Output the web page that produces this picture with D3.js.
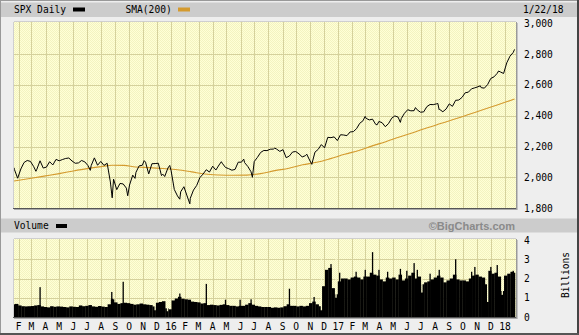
<!DOCTYPE html>
<html><head><meta charset="utf-8">
<script src="https://cdn.jsdelivr.net/npm/d3@7"></script>
<style>
html,body{margin:0;padding:0;background:#eeeeee;}
svg{display:block;}
text{font-family:"DejaVu Sans Mono",monospace;font-size:9.6px;fill:#000;}
</style></head><body>
<svg id="c" width="579" height="335"></svg>
<script>
// ---------- DATA ----------
const seriesName = "SPX Daily";
const smaName = "SMA(200)";
const asOf = "1/22/18";
const domainStart = "2015-01-22", domainEnd = "2018-01-23";
// weekly (Friday) closes, 2015-01-23 .. 2018-01-19
const firstFriday = "2015-01-23", lastFriday = "2018-01-19";
const weeklyClose = [
  2051,1995, 2055,2097,2110,2104, 2071,2053,2108,2061, 2067,2102,2081,2117,
  2108,2116,2123,2126,2107, 2092,2094,2110,2101, 2077,2077,2127,2079,2104,
  2078,2092,1971,1989, 1921,1961,1958,1931, 1951,2015,2033,2075,2079,
  2099,2023,2089,2090, 2092,2012,2006,2061,
  2044,1922,1880,1907,1940, 1880,1865,1918,1948, 1999,2022,2050,2035,
  2073,2048,2081,2092,2065, 2057,2047,2052,2099, 2099,2096,2071,2037,
  2103,2130,2162,2175,2174, 2183,2184,2184,2169, 2180,2128,2139,2165,2168,
  2153,2133,2141,2126, 2085,2164,2182,2213, 2192,2260,2258,2263,2239,
  2277,2275,2271,2295, 2297,2316,2351,2367, 2383,2373,2378,2344,2363,
  2355,2329,2349,2384, 2399,2391,2382,2416, 2439,2432,2433,2438,2423,
  2425,2459,2473,2472, 2477,2441,2426,2443, 2477,2461,2500,2502,2519,
  2549,2553,2575,2581, 2588,2582,2579,2602, 2642,2652,2675,2684,2674,
  2743,2786,2810
];
// extra daily closes (extremes, mid-week swings, first/last day)
const extraDates = ["2015-01-22","2015-03-11","2015-07-08","2015-08-24","2015-08-25","2015-09-28",
  "2015-10-14","2015-11-03","2015-12-14","2015-12-29","2016-01-20","2016-02-11","2016-04-20",
  "2016-06-08","2016-06-27","2016-08-15","2016-10-24","2017-03-01","2017-03-27","2017-05-17",
  "2017-06-19","2017-08-07","2017-08-10","2017-11-08","2017-12-18","2018-01-22"];
const extraClose = [2063,2040,2046,1893,1868,1881,1994,2109,2021,2078,1859,1829,2102,
  2119,2001,2190,2151,2396,2341,2357,2453,2480,2438,2594,2690,2830];
// 200-day moving average
const smaDates = ["2015-01-22","2015-03-01","2015-04-01","2015-05-01","2015-06-01","2015-07-01","2015-08-01",
  "2015-08-25","2015-09-20","2015-10-15","2015-11-15","2015-12-15","2016-01-15","2016-02-15","2016-03-15",
  "2016-04-15","2016-05-15","2016-06-15","2016-07-15","2016-08-15","2016-09-15","2016-10-15","2016-11-15",
  "2016-12-15","2017-01-15","2017-02-15","2017-03-15","2017-04-15","2017-05-15","2017-06-15","2017-07-15",
  "2017-08-15","2017-09-15","2017-10-15","2017-11-15","2017-12-15","2018-01-22"];
const smaValues = [1977,1995,2010,2025,2042,2057,2070,2079,2078,2068,2064,2058,2050,2036,2022,
  2016,2014,2015,2025,2044,2060,2082,2098,2122,2150,2175,2203,2232,2262,2292,2322,
  2352,2380,2410,2440,2470,2508];
// weekly volume (billions), same Fridays
const weeklyVolume = [
  0.66,0.68, 0.60,0.56,0.55,0.56, 0.57,0.60,0.62,0.55, 0.52,0.50,0.56,0.53,
  0.55,0.54,0.52,0.50,0.55, 0.53,0.52,0.60,0.56, 0.58,0.62,0.55,0.53,0.57,
  0.54,0.52,0.66,0.92, 0.76,0.68,0.72,0.74, 0.72,0.68,0.64,0.66,0.70,
  0.66,0.64,0.62,0.55, 0.74,0.78,0.82,0.45,
  0.40,0.86,0.96,1.05,0.95, 0.92,0.90,0.80,0.78, 0.76,0.70,0.72,0.62,
  0.64,0.62,0.60,0.63,0.66, 0.62,0.58,0.58,0.55, 0.58,0.58,0.64,0.72,
  0.64,0.58,0.55,0.52,0.52, 0.52,0.48,0.50,0.48, 0.50,0.56,0.66,0.58,0.58,
  0.55,0.58,0.55,0.58, 0.72,0.80,0.66,0.56, 1.60,2.45,2.55,1.50,1.18,
  1.85,2.00,2.00,1.95, 2.05,2.10,2.05,1.95, 2.10,2.10,2.30,2.20,2.15,
  1.95,1.85,2.05,2.00, 2.05,1.95,2.20,1.90, 2.00,2.15,2.30,2.00,2.10,
  1.70,1.80,1.85,1.95, 2.05,2.15,2.05,1.80, 1.90,2.00,2.20,1.95,1.90,
  1.90,1.85,2.00,2.15, 2.20,2.10,2.05,1.70, 2.40,2.25,2.30,2.10,1.35,
  2.15,2.25,2.35
];
// single-day volume spikes (billions)
const spikeDates = ["2015-03-20","2015-08-24","2015-08-25","2015-09-18","2016-01-20","2016-03-18",
  "2016-04-29","2016-05-31","2016-06-24","2016-09-16","2016-11-09","2016-12-16","2017-01-04",
  "2017-02-09","2017-03-01","2017-03-17","2017-03-31","2017-04-19","2017-05-17","2017-05-31",
  "2017-06-16","2017-06-23","2017-07-21","2017-08-10","2017-09-15","2017-10-20","2017-10-27",
  "2017-12-01","2017-12-15","2018-01-19","2018-01-22"];
const spikeVolume = [1.55,1.30,0.95,1.83,1.22,1.72,0.90,0.90,0.92,1.47,1.04,2.75,2.30,
  2.35,2.45,3.37,2.45,2.35,2.50,2.40,2.80,2.45,2.25,2.45,3.00,2.35,2.60,
  2.60,2.70,2.40,2.30];
// single-day volume dips (billions)
const dipDates = ["2015-11-27","2015-12-24","2016-11-25","2016-12-27","2017-07-03","2017-11-24","2017-12-26"];
const dipVolume = [0.35,0.30,0.35,1.00,1.27,0.78,1.15];
const priceTicks = [1800,2000,2200,2400,2600,2800,3000];
const volumeTicks = [0,1,2,3,4];
const volumeUnit = "Billions";
const volumeName = "Volume";
const credit = "\u00A9BigCharts.com";

// ---------- DRAW ----------
const P = d3.timeParse("%Y-%m-%d");
const svg = d3.select("#c");
const W = 579, H = 335;
const L = 14, R = 516;
const mainTop = 22, mainBot = 208;
const volTop = 239, volBot = 317;

const x = d3.scaleTime().domain([P(domainStart), P(domainEnd)]).range([L, R - 1]);
const y = d3.scaleLinear().domain([1800, 3000]).range([208.3, 23.2]);
const yv = d3.scaleLinear().domain([0, 4]).range([volBot, 240]);

const fridays = d3.timeFriday.range(P(firstFriday), d3.timeDay.offset(P(lastFriday), 1));

const defs = svg.append("defs");
const pat = defs.append("pattern").attr("id","bg").attr("width",2).attr("height",2).attr("patternUnits","userSpaceOnUse");
pat.append("rect").attr("width",2).attr("height",2).attr("fill","#ffffd6");
pat.append("rect").attr("width",1).attr("height",1).attr("fill","#f3f3c0");
pat.append("rect").attr("x",1).attr("y",1).attr("width",1).attr("height",1).attr("fill","#f3f3c0");
defs.append("clipPath").attr("id","cm").append("rect").attr("x",L).attr("y",mainTop).attr("width",R-L).attr("height",mainBot-mainTop);
defs.append("clipPath").attr("id","cv").append("rect").attr("x",L).attr("y",volTop).attr("width",R-L).attr("height",volBot-volTop);

// page background & frame
svg.append("rect").attr("width",W).attr("height",H).attr("fill","#eeeeee");
svg.append("rect").attr("x",0.5).attr("y",0.5).attr("width",577).attr("height",333).attr("fill","none").attr("stroke","#999");
svg.append("line").attr("x1",578).attr("x2",578).attr("y1",0).attr("y2",335).attr("stroke","#444").attr("stroke-width",2);
svg.append("line").attr("x1",0).attr("x2",579).attr("y1",334).attr("y2",334).attr("stroke","#555").attr("stroke-width",2);

// header bars
svg.append("rect").attr("x",1).attr("y",2.5).attr("width",576).attr("height",14.5).attr("fill","#cccccc");
svg.append("rect").attr("x",1).attr("y",218.5).attr("width",576).attr("height",14).attr("fill","#cccccc");

// panels
function panel(top, bot){
  svg.append("rect").attr("x",L).attr("y",top).attr("width",R-L).attr("height",bot-top).attr("fill","url(#bg)");
}
panel(mainTop, mainBot);
panel(volTop, volBot);

const months = d3.timeMonth.range(d3.timeMonth.ceil(P(domainStart)), P(domainEnd));
const gridColor = "#d5d19c";
[[mainTop,mainBot],[volTop,volBot]].forEach(([t,b])=>{
  svg.append("g").selectAll("line").data(months).join("line")
    .attr("x1",d=>Math.round(x(d))+0.5).attr("x2",d=>Math.round(x(d))+0.5)
    .attr("y1",t).attr("y2",b).attr("stroke",gridColor).attr("stroke-width",1);
});
svg.append("g").selectAll("line").data(priceTicks.slice(1,-1)).join("line")
  .attr("x1",L).attr("x2",R).attr("y1",d=>Math.round(y(d))+0.5).attr("y2",d=>Math.round(y(d))+0.5)
  .attr("stroke",gridColor);
svg.append("g").selectAll("line").data(volumeTicks.slice(1,-1)).join("line")
  .attr("x1",L).attr("x2",R).attr("y1",d=>Math.round(yv(d))+0.5).attr("y2",d=>Math.round(yv(d))+0.5)
  .attr("stroke",gridColor);

// SMA line
const smaData = smaDates.map((d,i)=>({date:P(d), v:smaValues[i]}));
svg.append("path").datum(smaData).attr("clip-path","url(#cm)")
  .attr("fill","none").attr("stroke","#d49a2e").attr("stroke-width",1.1)
  .attr("d", d3.line().x(d=>x(d.date)).y(d=>y(d.v)).curve(d3.curveMonotoneX));

// price line
const priceData = fridays.map((d,i)=>({date:d, v:weeklyClose[i]}))
  .concat(extraDates.map((d,i)=>({date:P(d), v:extraClose[i]})))
  .sort((a,b)=>a.date-b.date);
svg.append("path").datum(priceData).attr("clip-path","url(#cm)")
  .attr("fill","none").attr("stroke","#000").attr("stroke-width",1)
  .attr("d", d3.line().x(d=>x(d.date)).y(d=>y(d.v)));

// volume bars
const gv = svg.append("g").attr("clip-path","url(#cv)");
gv.selectAll("rect.w").data(fridays.map((d,i)=>({date:d, v:weeklyVolume[i]}))).join("rect")
  .attr("class","w")
  .attr("x",d=>x(d3.timeDay.offset(d.date,-6)))
  .attr("width",d=>x(d3.timeDay.offset(d.date,1)) - x(d3.timeDay.offset(d.date,-6)) + 0.3)
  .attr("y",d=>yv(d.v)).attr("height",d=>volBot - yv(d.v)).attr("fill","#000");
gv.selectAll("rect.d").data(dipDates.map((d,i)=>({date:P(d), v:dipVolume[i]}))).join("rect")
  .attr("class","d")
  .attr("x",d=>x(d.date)-0.6).attr("width",1.3)
  .attr("y",volTop).attr("height",d=>yv(d.v) - volTop).attr("fill","url(#bg)");
gv.selectAll("rect.s").data(spikeDates.map((d,i)=>({date:P(d), v:spikeVolume[i]}))).join("rect")
  .attr("class","s")
  .attr("x",d=>x(d.date)-0.6).attr("width",1.3)
  .attr("y",d=>yv(d.v)).attr("height",d=>volBot - yv(d.v)).attr("fill","#000");

// panel borders / shadows
function borders(top, bot){
  svg.append("line").attr("x1",L-0.5).attr("x2",L-0.5).attr("y1",top).attr("y2",bot).attr("stroke","#cfcfcf");
  svg.append("line").attr("x1",L).attr("x2",R).attr("y1",top-0.5).attr("y2",top-0.5).attr("stroke","#cfcfcf");
  svg.append("line").attr("x1",L-1).attr("x2",R+1).attr("y1",bot+0.5).attr("y2",bot+0.5).attr("stroke","#555");
  svg.append("line").attr("x1",L).attr("x2",R+2).attr("y1",bot+1.5).attr("y2",bot+1.5).attr("stroke","#aaa");
  svg.append("line").attr("x1",R+0.5).attr("x2",R+0.5).attr("y1",top).attr("y2",bot+1).attr("stroke","#999");
  svg.append("line").attr("x1",R+1.5).attr("x2",R+1.5).attr("y1",top+1).attr("y2",bot+2).attr("stroke","#c4c4c4");
}
borders(mainTop, mainBot);
borders(volTop, volBot);

// y labels
svg.append("g").selectAll("text").data(priceTicks).join("text")
  .attr("x",524).attr("y",d=>y(d)+3.5).text(d=>d3.format(",")(d));
svg.append("g").selectAll("text").data(volumeTicks).join("text")
  .attr("x",524).attr("y",d=>yv(d)+3.5).text(d=>d);
svg.append("text").attr("transform","translate(569,275) rotate(-90)")
  .attr("text-anchor","middle").text(volumeUnit);

// x labels
const mFmt = d3.timeFormat("%b");
svg.append("g").selectAll("text").data(months).join("text")
  .attr("x",d=>x(d)).attr("y",329.5).attr("text-anchor","middle")
  .text(d=>d.getMonth()===0 ? d3.timeFormat("%y")(d) : mFmt(d).charAt(0));

// header texts
svg.append("text").attr("x",14).attr("y",13).text(seriesName);
svg.append("rect").attr("x",73).attr("y",7.5).attr("width",12).attr("height",4).attr("fill","#000");
svg.append("text").attr("x",125.5).attr("y",13).text(smaName);
svg.append("rect").attr("x",178).attr("y",7.5).attr("width",12).attr("height",4).attr("fill","#d49a2e");
svg.append("text").attr("x",523).attr("y",13).text(asOf);
svg.append("text").attr("x",14).attr("y",229).text(volumeName);
svg.append("rect").attr("x",56).attr("y",224).attr("width",11).attr("height",4).attr("fill","#000");
svg.append("text").attr("x",515).attr("y",229.5).attr("text-anchor","end")
  .style("font-family","'Liberation Sans',Arial,sans-serif").style("font-weight","bold")
  .style("font-size","11px").style("fill","#8a8a8a").text(credit);
</script>
</body></html>
